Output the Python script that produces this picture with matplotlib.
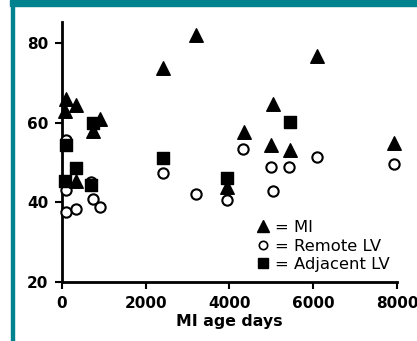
import matplotlib.pyplot as plt
from matplotlib.patches import Rectangle
from matplotlib.lines import Line2D

plt.rcParams['font.family'] = ['DejaVu Sans']

# MI (filled triangles)
mi_x = [100, 330, 80, 740, 900, 330, 2400, 3200, 3950, 4350, 4980, 5050, 5450, 6100, 7930]
mi_y = [66, 64.5, 63, 58, 61, 45.5, 73.8, 82, 43.8, 57.7, 54.4, 64.8, 53.2, 76.7, 54.9]

# Remote LV (open circles)
rem_x = [100, 100, 100, 330, 700, 740, 900, 2400, 3200, 3950, 4330, 4980, 5050, 5420, 6100, 7930]
rem_y = [55.6, 43, 37.6, 38.3, 45.2, 40.8, 38.8, 47.4, 42.1, 40.6, 53.4, 48.9, 42.8, 48.9, 51.4, 49.6]

# Adjacent LV (filled squares)
adj_x = [100, 80, 330, 700, 750, 2400, 3950, 5450]
adj_y = [54.4, 45.3, 48.6, 44.5, 60, 51.1, 46.1, 60.2]

xticks = [0, 2000, 4000, 6000, 8000]
yticks = [20, 40, 60, 80]

teal = '#00838f'

fig = plt.figure(figsize=(4.17, 3.41), dpi=100)
ax = fig.add_axes([0.1487, 0.173, 0.8033, 0.762])

ax.scatter(rem_x, rem_y, s=55, marker='o', facecolors='white', edgecolors='black',
           linewidths=1.5, clip_on=False, zorder=3)
ax.scatter(adj_x, adj_y, s=75, marker='s', color='black', clip_on=False, zorder=4)
ax.scatter(mi_x, mi_y, s=95, marker='^', color='black', clip_on=False, zorder=5)

ax.set_xlim(0, 8000)
ax.set_ylim(20, 85.3)
ax.set_xticks(xticks)
ax.set_yticks(yticks)
ax.spines['top'].set_visible(False)
ax.spines['right'].set_visible(False)
ax.spines['left'].set_linewidth(2)
ax.spines['bottom'].set_linewidth(2)
ax.tick_params(direction='out', length=5, width=1.5, labelsize=11, pad=5)
for lab in ax.get_xticklabels() + ax.get_yticklabels():
    lab.set_fontweight('bold')
ax.set_xlabel('MI age days', fontsize=11.3, fontweight='bold', labelpad=2)

handles = [
    Line2D([], [], marker='^', color='black', linestyle='none', markersize=8),
    Line2D([], [], marker='o', markerfacecolor='white', markeredgecolor='black',
           markeredgewidth=1.2, linestyle='none', markersize=6),
    Line2D([], [], marker='s', color='black', linestyle='none', markersize=7),
]
ax.legend(handles, ['= MI', '= Remote LV', '= Adjacent LV'], frameon=False,
          loc='lower left', bbox_to_anchor=(0.55, 0.0), fontsize=11.8,
          handlelength=0.8, handletextpad=0.35, labelspacing=0.22, borderaxespad=0.2)

fig.patches.append(Rectangle((10 / 417, 1 - 6 / 341), 1, 6 / 341,
                             transform=fig.transFigure, color=teal, zorder=0))
fig.patches.append(Rectangle((11 / 417, 0), 2.5 / 417, 1,
                             transform=fig.transFigure, color=teal, zorder=0))

fig.savefig('out.png', dpi=100)
